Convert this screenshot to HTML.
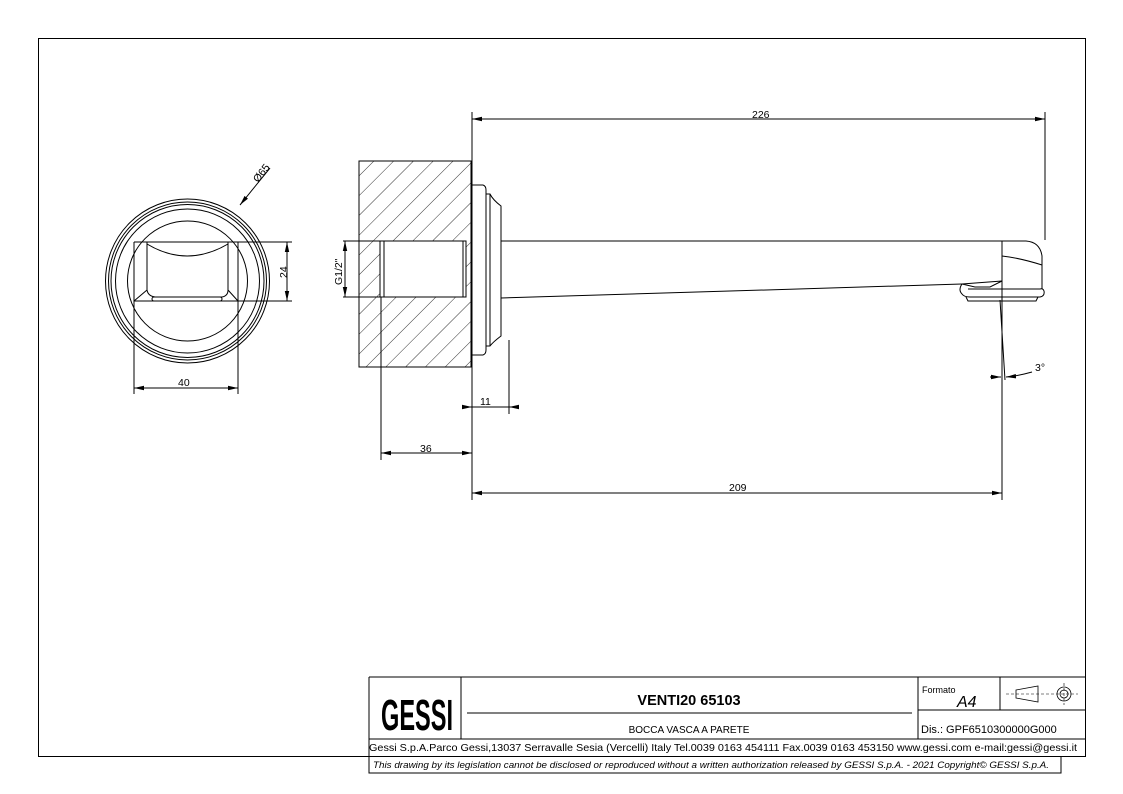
<!DOCTYPE html>
<html><head><meta charset="utf-8"><style>
html,body{margin:0;padding:0;background:#fff;}
svg{display:block;}
text{font-family:"Liberation Sans",Arial,sans-serif;fill:#000;}
</style></head><body>
<svg width="1123" height="794" viewBox="0 0 1123 794" xmlns="http://www.w3.org/2000/svg">
<defs>
<pattern id="h" width="14" height="14" patternUnits="userSpaceOnUse" patternTransform="rotate(45)">
<line x1="0" y1="0" x2="0" y2="14" stroke="#000" stroke-width="0.8"/>
</pattern>
<marker id="a" markerWidth="10" markerHeight="6" refX="10" refY="3" orient="auto-start-reverse" markerUnits="userSpaceOnUse"><path d="M0,0.8 L10,3 L0,5.2 Z" fill="#000"/></marker>
</defs>
<g fill="none" stroke="#000" stroke-width="1">
<rect x="38.5" y="38.5" width="1047" height="718"/>
<!-- left view -->
<circle cx="187.5" cy="281" r="82"/>
<circle cx="187.5" cy="281" r="79"/>
<circle cx="187.5" cy="281" r="76.5"/>
<circle cx="187.5" cy="281" r="72"/>
<circle cx="187.5" cy="281" r="60"/>
<path d="M134,242 H238 M134,242 V301 H238 V242"/>
<path d="M147,242 V290 M228,242 V290 M147,290 L134,301 M228,290 L238,301"/>
<path d="M147,244 Q187,268 228,244"/>
<path d="M147,290 Q148,296 155,297 H222 Q228,296 228,290"/>
<rect x="152" y="297" width="70" height="4" rx="2"/>
<path d="M134,301 V394 M238,301 V394"/>
<line x1="134" y1="388" x2="238" y2="388" marker-start="url(#a)" marker-end="url(#a)"/>
<path d="M238,242 H292 M238,301 H292"/>
<line x1="287" y1="242" x2="287" y2="301" marker-start="url(#a)" marker-end="url(#a)"/>
<line x1="270" y1="168" x2="240" y2="205" marker-end="url(#a)"/>
<!-- wall -->
<rect x="359" y="161" width="112" height="206" fill="url(#h)"/>
<rect x="380" y="241" width="86" height="56" fill="#fff" stroke="none"/>
<path d="M380,241 H466 V297 H380 Z M384,241 V297 M463,241 V297"/>
<path d="M359,161 H471 V367 H359 Z"/>
<path d="M343,241 H380 M343,297 H380"/>
<line x1="345" y1="241" x2="345" y2="297" marker-start="url(#a)" marker-end="url(#a)"/>
<!-- flange -->
<path d="M472,185 H483 Q486,186 486,190 V350 Q486,354 483,355 H472"/>
<path d="M486,194 H490 Q493,200 501,206 V336 Q493,342 490,346 H486"/>
<path d="M490,194 V346"/>
<!-- spout -->
<path d="M501,241 H1026 Q1040,242 1042,256 V289"/>
<path d="M501,298 L962,284"/>
<path d="M962,284 Q958,290 962,294 Q964,297 970,297 H1040 Q1045,296 1044,291 Q1043,288 1040,289 H968"/>
<path d="M966,297 L968,301 H1036 L1038,297"/>
<path d="M962,284 L975,287 H990 L1002,281 L962,284"/>
<path d="M1002,256 Q1020,258 1042,265"/>
<!-- dims -->
<path d="M472,112 V500 M1045,112 V240"/>
<line x1="472" y1="119" x2="1045" y2="119" marker-start="url(#a)" marker-end="url(#a)"/>
<path d="M1002,241 V500 M1000,300 L1005,380"/>
<line x1="472" y1="493" x2="1002" y2="493" marker-start="url(#a)" marker-end="url(#a)"/>
<path d="M381,297 V460"/>
<line x1="381" y1="453" x2="472" y2="453" marker-start="url(#a)" marker-end="url(#a)"/>
<path d="M509,340 V414"/>
<line x1="462" y1="407" x2="472" y2="407" marker-end="url(#a)"/>
<line x1="519" y1="407" x2="509" y2="407" marker-end="url(#a)"/>
<line x1="472" y1="407" x2="509" y2="407"/>
<line x1="990" y1="377" x2="1001" y2="377" marker-end="url(#a)"/>
<path d="M1032,372 Q1018,376 1006,377" marker-end="url(#a)"/>
<!-- title block -->
<path d="M369,677 H1085 M369,739 H1085 M369,756 V773 H1061 V756 M369,677 V756"/>
<path d="M461,677 V739 M918,677 V739 M918,710 H1085 M1000,677 V710"/>
<path d="M467,713 H912"/>
<path d="M1016,690 L1038,686 V702 L1016,698 Z" stroke-width="0.8"/>
<circle cx="1064" cy="694" r="7" stroke-width="0.8"/>
<circle cx="1064" cy="694" r="4" stroke-width="0.8"/>
<path d="M1006,694 H1078 M1064,683 V705" stroke-width="0.6" stroke-dasharray="3,2"/>
</g>
<g font-size="10.5">
<text x="752" y="118">226</text>
<text x="729" y="491">209</text>
<text x="420" y="452">36</text>
<text x="480" y="405">11</text>
<text x="178" y="386">40</text>
<text x="1035" y="371">3°</text>
<text transform="translate(287,278) rotate(-90)">24</text>
<text transform="translate(342,285) rotate(-90)">G1/2"</text>
<text transform="translate(258,183) rotate(-52)">Ø65</text>
</g>
<text x="381" y="730" font-size="44" font-weight="bold" font-family="Liberation Sans Narrow,Liberation Sans,sans-serif" textLength="72" lengthAdjust="spacingAndGlyphs">GESSI</text>
<text x="689" y="705" font-size="14.5" font-weight="bold" text-anchor="middle">VENTI20 65103</text>
<text x="689" y="733" font-size="10" text-anchor="middle">BOCCA VASCA A PARETE</text>
<text x="922" y="693" font-size="9">Formato</text>
<text x="957" y="707" font-size="16" font-style="italic">A4</text>
<text x="921" y="733" font-size="11">Dis.: GPF6510300000G000</text>
<text x="723" y="751" font-size="10.3" text-anchor="middle" textLength="708" lengthAdjust="spacingAndGlyphs">Gessi S.p.A.Parco Gessi,13037 Serravalle Sesia (Vercelli) Italy Tel.0039 0163 454111 Fax.0039 0163 453150 www.gessi.com e-mail:gessi@gessi.it</text>
<text x="711" y="768" font-size="9" font-style="italic" text-anchor="middle" textLength="676" lengthAdjust="spacingAndGlyphs">This drawing by its legislation cannot be disclosed or reproduced without a written authorization released by GESSI S.p.A. - 2021 Copyright© GESSI S.p.A.</text>
</svg>
</body></html>
